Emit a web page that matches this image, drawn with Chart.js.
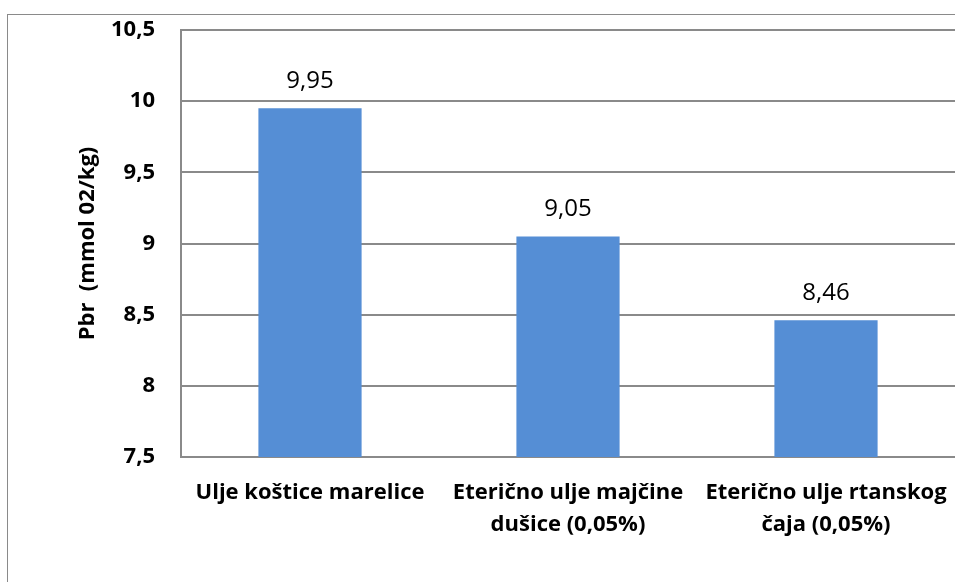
<!DOCTYPE html>
<html>
<head>
<meta charset="utf-8">
<script src="https://cdn.jsdelivr.net/npm/chart.js@4/dist/chart.umd.min.js"></script>
<style>
  html, body { margin: 0; padding: 0; background: #fff; overflow: hidden; }
  .wrap { position: relative; width: 955px; height: 582px; }
  .frame {
    position: absolute; left: 7px; top: 14px; width: 1000px; height: 1000px;
    border-left: 1px solid #8a8a8a; border-top: 1px solid #8a8a8a;
  }
  canvas { position: absolute; left: 0; top: 0; }
</style>
</head>
<body>
<div class="wrap">
  <div class="frame"></div>
  <canvas id="chart" width="955" height="582"></canvas>
</div>
<script>
const categories = [
  ["Ulje koštice marelice"],
  ["Eterično ulje majčine", "dušice (0,05%)"],
  ["Eterično ulje rtanskog", "čaja (0,05%)"]
];
const values = [9.95, 9.05, 8.46];
const yMin = 7.5;
const yMax = 10.5;
const yStep = 0.5;
const yTitle = "Pbr  (mmol 02/kg)";

const fontFamily = "'Open Sans', sans-serif";
const comma = (v) => String(v).replace(".", ",");

// draws the value above each bar
const valueLabels = {
  id: "valueLabels",
  afterDatasetsDraw(chart) {
    const ctx = chart.ctx;
    const meta = chart.getDatasetMeta(0);
    ctx.save();
    ctx.font = "24px " + fontFamily;
    ctx.fillStyle = "#000";
    ctx.textAlign = "center";
    ctx.textBaseline = "middle";
    meta.data.forEach((bar, i) => {
      ctx.fillText(comma(values[i]), bar.x, bar.y - 27);
    });
    ctx.restore();
  },
};

const chart = new Chart(document.getElementById("chart"), {
  type: "bar",
  data: {
    labels: categories,
    datasets: [
      {
        data: values,
        backgroundColor: "#558ed5",
        categoryPercentage: 1,
        barPercentage: 0.4,
      },
    ],
  },
  plugins: [valueLabels],
  options: {
    responsive: false,
    animation: false,
    layout: { padding: { top: 30, left: 0, right: 0, bottom: 0 } },
    plugins: { legend: { display: false }, tooltip: { enabled: false } },
    scales: {
      x: {
        grid: { display: false, drawTicks: false },
        border: { display: true, color: "#8a8a8a", width: 2 },
        ticks: {
          color: "#000",
          padding: 20,
          maxRotation: 0,
          autoSkip: false,
          font: { family: fontFamily, size: 22, weight: "bold", lineHeight: 1.45 },
        },
        afterFit: (s) => {
          s.height = 125;
          s.paddingLeft = 0;
          s.paddingRight = 0;
        },
      },
      y: {
        min: yMin,
        max: yMax,
        grid: { color: "#8a8a8a", lineWidth: 2, drawTicks: false },
        border: { display: true, color: "#8a8a8a", width: 2 },
        ticks: {
          stepSize: yStep,
          color: "#000",
          padding: 26,
          font: { family: fontFamily, size: 22, weight: "bold" },
          callback: (v) => comma(v),
        },
        title: {
          display: true,
          text: yTitle,
          color: "#000",
          padding: { top: 75, bottom: 0 },
          font: { family: fontFamily, size: 22, weight: "bold" },
        },
        afterFit: (s) => {
          s.width = 181;
          s.paddingTop = 0;
          s.paddingBottom = 0;
        },
      },
    },
  },
});
</script>
</body>
</html>
